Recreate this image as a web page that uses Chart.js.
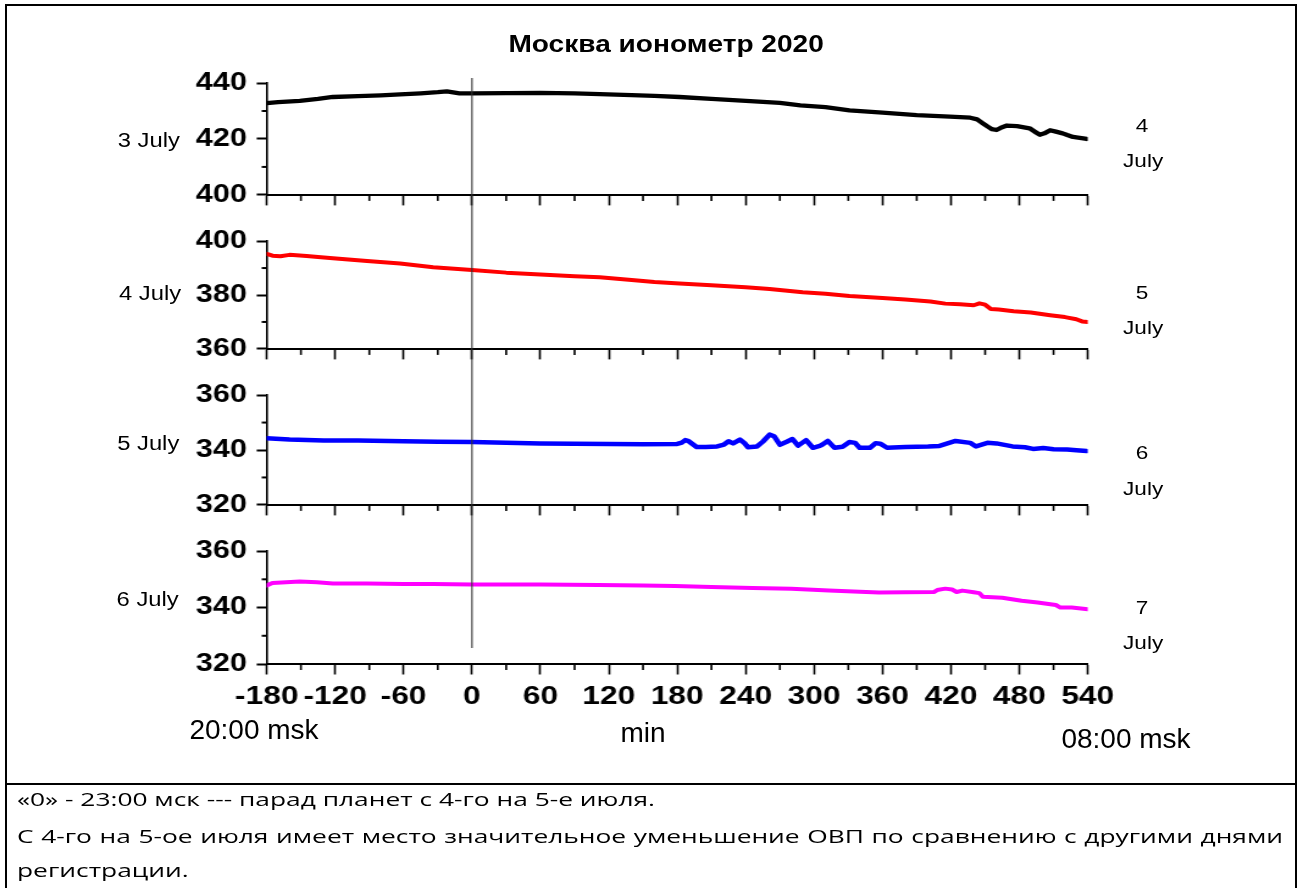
<!DOCTYPE html>
<html>
<head>
<meta charset="utf-8">
<script src="https://cdn.jsdelivr.net/npm/chart.js@4.4.1/dist/chart.umd.min.js"></script>
<style>
  html, body { margin:0; padding:0; background:#fff; }
  #page { position:relative; width:1302px; height:888px; overflow:hidden; background:#fff; }
  #frame { position:absolute; left:5px; top:4px; width:1292px; height:920px; border:2px solid #000; box-sizing:border-box; }
  #divider { position:absolute; left:5px; top:783px; width:1292px; height:2px; background:#000; }
  #stretch { position:absolute; left:0; top:0; width:1067px; height:888px; transform:scaleX(1.22); transform-origin:0 0; }
  #stretch canvas { position:absolute; left:0; }
  .c { position:absolute; transform:translate(-50%,-50%); white-space:nowrap; line-height:1; color:#000;
       font-family:"Liberation Sans", Arial, sans-serif; }
  .side { font-size:19.5px; }
  .rside { font-size:18.5px; }
  .title { font-size:23px; font-weight:bold; }
  .plain { font-size:28px; }
  .note { position:absolute; left:17px; font-family:"Open Sans", "Noto Sans", sans-serif; font-size:18.5px; line-height:22px;
          color:#000; white-space:nowrap; transform-origin:0 0; }
</style>
</head>
<body>
<div id="page">
  <div id="frame"></div>
  <div id="divider"></div>
  <div id="stretch">
    <canvas id="c1" width="1067" height="218" style="top:0px"></canvas>
    <canvas id="c2" width="1067" height="154" style="top:218px"></canvas>
    <canvas id="c3" width="1067" height="156" style="top:372px"></canvas>
    <canvas id="c4" width="1067" height="252" style="top:528px"></canvas>

    <div class="c title" style="left:546px; top:44px;">Москва ионометр 2020</div>

    <div class="c side" style="left:122px; top:141px;">3 July</div>
    <div class="c side" style="left:123px; top:294px;">4 July</div>
    <div class="c side" style="left:121.5px; top:444px;">5 July</div>
    <div class="c side" style="left:121px; top:600px;">6 July</div>

    <div class="c rside" style="left:936px; top:126px;">4</div>
    <div class="c rside" style="left:937px; top:161px;">July</div>
    <div class="c rside" style="left:936px; top:293px;">5</div>
    <div class="c rside" style="left:937px; top:328px;">July</div>
    <div class="c rside" style="left:936px; top:453px;">6</div>
    <div class="c rside" style="left:937px; top:489px;">July</div>
    <div class="c rside" style="left:936px; top:608px;">7</div>
    <div class="c rside" style="left:937px; top:643px;">July</div>
  </div>

  <div class="c plain" style="left:254px; top:730px;">20:00 msk</div>
  <div class="c plain" style="left:643px; top:733px;">min</div>
  <div class="c plain" style="left:1126px; top:739px;">08:00 msk</div>

  <div class="note" id="n1" style="top:788px;">«0» - 23:00 мск --- парад планет с 4-го на 5-е июля.</div>
  <div class="note" id="n2" style="top:825px; text-align:justify; text-align-last:justify;">С 4-го на 5-ое июля имеет место значительное уменьшение ОВП по сравнению с другими днями</div>
  <div class="note" id="n3" style="top:859px;">регистрации.</div>
</div>

<script>
// ---------- data (minutes relative to 23:00 msk, ionometer readings) ----------
const xMinMax = [-180, 540];

const minutes3July = [-180,-170,-151,-135,-122,-100,-80,-63,-45,-30,-22,-11,0,30,60,90,112,140,160,182,210,244,270,288,310,331,360,390,419,437,443,448,452,456,460,465,469,478,489,494,498,502,507,512,518,522,527,533,539];
const values3July  = [432.8,433.2,433.6,434.3,435.0,435.3,435.6,435.9,436.3,436.7,437.0,436.3,436.3,436.4,436.5,436.3,436.0,435.7,435.4,435.0,434.3,433.5,432.9,432.0,431.4,430.2,429.4,428.5,428.0,427.6,427.0,425.6,424.5,423.5,423.2,424.2,424.8,424.6,423.8,422.5,421.5,422.0,423.1,422.6,422.0,421.4,420.7,420.4,420.0];

const minutes4July = [-180,-175,-168,-160,-145,-135,-122,-92,-63,-34,0,30,60,90,112,140,160,182,210,240,261,290,310,331,360,380,402,415,428,440,445,450,455,462,475,490,507,520,530,535,540];
const values4July  = [395.3,394.6,394.4,394.9,394.5,394.1,393.6,392.6,391.7,390.3,389.3,388.3,387.6,387.0,386.6,385.6,384.8,384.3,383.6,382.9,382.2,381.0,380.5,379.6,378.9,378.3,377.6,376.8,376.6,376.2,376.9,376.4,374.8,374.6,374.0,373.5,372.5,371.8,371.0,370.2,370.0];

const minutes5July = [-180,-160,-130,-100,-60,-30,0,30,60,90,120,150,180,184,187,190,197,205,215,221,225,229,235,239,242,250,255,261,265,270,276,281,286,293,299,305,307,312,318,325,331,336,340,349,354,358,364,380,400,410,424,437,442,452,460,474,485,492,501,510,522,530,539];
const values5July  = [344.3,343.8,343.5,343.5,343.2,343.0,342.9,342.6,342.4,342.3,342.2,342.1,342.2,342.7,343.6,343.2,341.1,341.1,341.3,342.0,343.2,342.4,343.8,342.5,341.0,341.3,343.0,345.6,345.0,341.9,343.0,344.0,341.6,343.6,340.8,341.5,341.9,343.3,340.8,341.2,342.9,342.6,340.8,340.8,342.5,342.3,340.8,341.1,341.3,341.5,343.3,342.6,341.3,342.6,342.4,341.3,341.0,340.4,340.7,340.3,340.2,339.9,339.6];

const minutes6July = [-180,-175,-151,-136,-122,-92,-60,-34,0,60,111,150,178,210,246,280,313,340,357,380,405,408,415,421,425,430,440,445,448,465,482,496,512,516,526,540];
const values6July  = [347.8,348.7,349.2,349.0,348.5,348.5,348.3,348.3,348.2,348.2,348.0,347.8,347.6,347.3,346.9,346.7,346.0,345.6,345.3,345.4,345.5,346.2,346.7,346.4,345.5,346.0,345.4,345.1,343.8,343.5,342.4,341.8,340.9,340.0,340.0,339.4];

const yRange3July = [400, 440];
const yRange4July = [360, 400];
const yRange5July = [320, 360];
const yRange6July = [320, 360];

// ---------- chart construction ----------
const FONT = '"Liberation Sans", Arial, sans-serif';

const axisExtras = {
  id: 'axisExtras',
  afterDatasetsDraw(chart, args, o) {
    const {ctx} = chart, x = chart.scales.x;
    const p = x.getPixelForValue(0);
    ctx.save();
    ctx.strokeStyle = '#333';
    ctx.lineWidth = 1.1;
    ctx.beginPath();
    ctx.moveTo(p, o.zeroTop);
    ctx.lineTo(p, o.zeroBottom === null ? chart.height : o.zeroBottom);
    ctx.stroke();
    ctx.restore();
  },
  afterDraw(chart) {
    const {ctx} = chart, x = chart.scales.x, y = chart.scales.y;
    ctx.save();
    ctx.strokeStyle = '#000';
    ctx.lineWidth = 1.64;
    for (let v = x.min + 30; v < x.max; v += 60) {
      const p = x.getPixelForValue(v);
      ctx.beginPath(); ctx.moveTo(p, x.top); ctx.lineTo(p, x.top + 6); ctx.stroke();
    }
    ctx.lineWidth = 2;
    for (let v = y.min + 10; v < y.max; v += 20) {
      const p = y.getPixelForValue(v);
      ctx.beginPath(); ctx.moveTo(y.right, p); ctx.lineTo(y.right - 4.1, p); ctx.stroke();
    }
    ctx.restore();
  }
};

function makePanel(id, minutes, values, color, yRange, pad, xHeight, showXLabels, zeroTop, zeroBottom, lw) {
  return new Chart(document.getElementById(id), {
    type: 'line',
    data: {
      datasets: [{
        data: minutes.map((m, i) => ({x: m, y: values[i]})),
        borderColor: color,
        borderWidth: lw,
        pointRadius: 0,
        tension: 0,
        fill: false,
        borderJoinStyle: 'round',
        borderCapStyle: 'round'
      }]
    },
    options: {
      responsive: false,
      animation: false,
      events: [],
      layout: { padding: pad },
      plugins: {
        legend: { display: false },
        tooltip: { enabled: false },
        title: { display: false },
        axisExtras: { zeroTop: zeroTop, zeroBottom: zeroBottom }
      },
      scales: {
        x: {
          type: 'linear',
          min: xMinMax[0], max: xMinMax[1],
          ticks: {
            stepSize: 30, autoSkip: false, maxRotation: 0, minRotation: 0,
            color: '#000', padding: 7,
            font: { family: FONT, size: 26, weight: 'bold' },
            callback: v => (showXLabels && v % 60 === 0) ? String(v) : ''
          },
          grid: {
            drawOnChartArea: false, drawTicks: true, tickLength: 10.5, tickWidth: 1.64,
            tickColor: c => (c.tick && c.tick.value % 60 === 0) ? '#000' : 'rgba(0,0,0,0)'
          },
          border: { display: true, color: '#000', width: 2 },
          afterFit: s => { s.height = xHeight; }
        },
        y: {
          type: 'linear',
          min: yRange[0], max: yRange[1],
          ticks: {
            stepSize: 10, color: '#000', padding: 8.1,
            font: { family: FONT, size: 25, weight: 'bold' },
            callback: v => (v % 20 === 0) ? String(v) : ''
          },
          grid: {
            drawOnChartArea: false, drawTicks: true, tickLength: 8.2, tickWidth: 2,
            tickColor: c => (c.tick && c.tick.value % 20 === 0) ? '#000' : 'rgba(0,0,0,0)'
          },
          border: { display: true, color: '#000', width: 1.64 },
          afterFit: s => { s.width = 100; }
        }
      }
    },
    plugins: [axisExtras]
  });
}

const padL = 118.6, padR = 175.4;
makePanel('c1', minutes3July, values3July, '#000000', yRange3July, {left: padL, right: padR, top: 83, bottom: 7}, 12, false, 78, null, 4.3);
makePanel('c2', minutes4July, values4July, '#ff0000', yRange4July, {left: padL, right: padR, top: 20, bottom: 6}, 12, false, 0, null, 4);
makePanel('c3', minutes5July, values5July, '#0000ff', yRange5July, {left: padL, right: padR, top: 20, bottom: 7}, 12, false, 0, null, 4.5);
makePanel('c4', minutes6July, values6July, '#ff00ff', yRange6July, {left: padL, right: padR, top: 20, bottom: 66}, 50, true, 0, 120, 4);

// ---------- fit the note text widths ----------
(function fitNotes() {
  const n1 = document.getElementById('n1'), n2 = document.getElementById('n2'), n3 = document.getElementById('n3');
  n1.style.display = 'inline-block';
  const sx = 638 / n1.getBoundingClientRect().width;
  [n1, n2, n3].forEach(n => { n.style.transform = 'scaleX(' + sx + ')'; });
  n2.style.width = (1266 / sx) + 'px';
})();
</script>
</body>
</html>
